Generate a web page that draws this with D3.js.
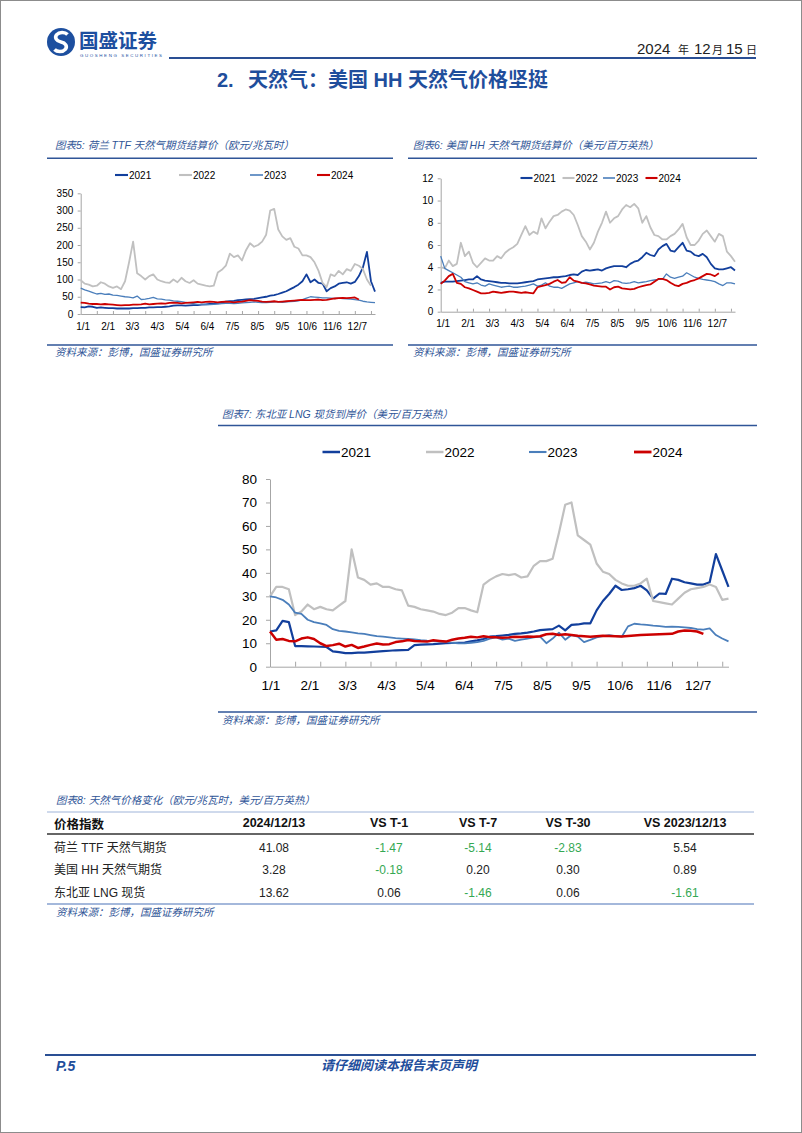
<!DOCTYPE html>
<html><head><meta charset="utf-8">
<script src="https://cdn.jsdelivr.net/npm/d3@7"></script>
<style>body{margin:0;background:#fff;}svg{display:block;}</style>
</head><body>
<svg id="page" width="802" height="1133"></svg>
<script>
// ---------------- DATA ----------------
const years = ["2021", "2022", "2023", "2024"];
const monthLabels = ["1/1","2/1","3/3","4/3","5/4","6/4","7/5","8/5","9/5","10/6","11/6","12/7"];
const monthLabelDays = [0,31,61,92,123,154,185,216,247,278,309,340];
const sampleStep = 5; // days between successive values in each series

// Chart 5: Dutch TTF (EUR/MWh)
const ttf2021 = [20,19,22,21,18,19,18,17,17,16,16,16,16,17,17,18,18,19,19,20,20,21,22,24,25,25,24,25,26,26,27,28,29,30,32,34,36,37,38,40,41,42,43,44,46,48,50,53,55,58,62,66,72,78,85,95,115,92,100,90,88,66,75,80,88,90,92,88,93,110,135,180,95,65];
const ttf2022 = [98,88,85,80,82,92,88,80,76,80,72,95,150,210,118,110,100,110,115,100,95,92,90,100,92,105,95,90,98,88,85,82,80,82,120,128,140,175,165,170,155,185,205,195,200,210,230,300,305,245,225,215,220,195,190,170,170,165,150,125,90,78,115,110,125,115,130,125,145,140,130,100,82];
const ttf2023 = [75,70,66,62,58,60,57,58,55,54,52,50,49,47,52,42,43,45,48,44,43,41,40,38,37,36,34,32,30,28,28,27,27,28,29,30,31,31,30,31,32,33,34,35,34,33,33,34,35,35,34,35,36,37,38,42,46,50,49,48,47,47,46,45,46,45,44,43,42,40,37,35,34,33];
const ttf2024 = [33,32,30,29,29,28,29,28,27,26,25,26,26,27,27,28,30,28,29,30,31,30,32,33,32,31,32,33,34,35,34,35,36,35,34,35,36,35,34,35,36,38,40,39,38,36,35,36,37,35,36,37,38,39,40,41,40,40,41,42,40,41,43,45,46,47,46,47,48,42];

// Chart 6: US Henry Hub (USD/MMBtu)
const hh2021 = [2.6,2.7,2.7,2.7,2.75,2.8,2.85,2.9,2.9,3.2,2.9,2.8,2.75,2.7,2.65,2.6,2.6,2.55,2.55,2.55,2.6,2.65,2.7,2.75,2.9,2.95,3.0,3.05,3.1,3.1,3.15,3.2,3.3,3.35,3.3,3.6,3.75,3.7,3.75,3.8,3.7,3.9,4.0,4.1,4.1,4.1,4.0,4.3,4.5,4.6,4.9,5.3,5.1,5.0,5.6,5.9,6.1,5.5,5.4,5.8,6.2,5.5,5.4,5.1,5.0,5.2,4.9,4.3,3.9,3.8,3.8,3.9,4.0,3.7];
const hh2022 = [4.0,3.9,4.6,4.1,4.3,6.2,5.0,5.4,4.4,4.0,4.4,4.8,4.6,4.6,5.0,4.8,5.3,5.6,5.8,6.1,6.9,7.7,6.9,7.2,7.0,8.4,7.5,8.1,8.6,8.7,9.0,9.2,9.1,8.7,7.8,6.8,6.3,5.6,6.2,7.2,8.0,9.0,8.0,8.4,8.6,9.2,9.6,9.4,9.7,9.3,8.0,8.6,7.6,6.9,6.8,6.5,6.5,6.8,7.0,7.4,7.9,6.7,6.0,6.0,6.4,7.0,7.3,6.8,6.3,7.0,6.8,5.4,5.0,4.5];
const hh2023 = [5.0,3.9,3.7,3.5,3.3,3.1,2.7,2.6,2.5,2.6,2.4,2.3,2.5,2.4,2.3,2.2,2.25,2.3,2.2,2.2,2.25,2.3,2.4,2.5,2.3,2.4,2.6,2.3,2.2,2.2,2.1,2.3,2.5,2.6,2.7,2.6,2.65,2.6,2.5,2.55,2.6,2.7,2.6,2.8,2.75,2.6,2.55,2.6,2.7,2.6,2.65,2.7,2.8,2.85,2.9,2.9,3.4,3.1,3.0,3.1,3.2,3.5,3.3,3.1,3.0,2.9,2.85,2.8,2.7,2.5,2.35,2.6,2.6,2.5];
const hh2024 = [2.5,2.8,3.2,3.4,2.6,2.5,2.2,2.1,1.95,1.8,1.65,1.65,1.7,1.8,1.75,1.7,1.75,1.8,1.8,1.75,1.7,1.75,1.7,1.65,2.2,2.3,2.4,2.5,2.7,2.85,2.6,2.65,3.1,2.8,2.7,2.6,2.55,2.45,2.35,2.3,2.25,2.25,2.0,2.2,2.25,2.1,2.05,2.0,2.05,2.2,2.3,2.4,2.45,2.7,2.95,2.95,2.85,2.6,2.4,2.3,2.5,2.6,2.75,2.85,3.0,3.2,3.4,3.35,3.2,3.45];

// Chart 7: Northeast Asia LNG spot (USD/MMBtu)
const lng2021 = [15,15.5,19.5,19,8.8,8.8,8.7,8.6,8.5,8.4,6.5,6.2,5.8,5.8,6,6,6.2,6.4,6.6,6.8,7,7.1,7.2,9.2,9.4,9.5,9.6,9.8,10,10.1,10.2,10.3,10.8,11.2,11.8,12.8,13,13.3,13.6,14,14.2,14.5,15,15.6,15.8,16,17.5,15.5,17.8,18,18.5,18.5,24,28,31,34.5,32.7,33,33.5,34.5,32.5,29,31.2,31,37.5,37,36,35.5,35,35,36,48,41,34];
const lng2022 = [30,34,34,33,22,23.5,26.5,24.5,25.5,24.5,24,26,28,50,38,37,35,35.5,34,34,33,32.5,26,25.5,24.5,24,23.5,22.5,22,23,25,25,24,23.2,35,37,38.5,39.5,39,39.5,38,38.5,43,45,45,46,57,69,70,56,54,52,44,40.5,39.5,37,35.5,34.5,34.5,35.5,37.5,28,27.5,27,26.5,29,31.5,33,33.5,34,35,34,28.5,29];
const lng2023 = [30,29.5,28.5,26.5,23,22.5,20,19,18.5,17.8,16,15.3,15,14.6,14.2,14,13.5,13,12.8,12.5,12.2,12,11.8,11.6,11.3,11.1,11,10.8,10.6,10.2,10,9.9,10.2,10.5,11,12,12.5,11.5,12,11,11.5,12,12.5,12.8,10,12,14.5,11.5,13.5,12.8,10.5,11.4,12.5,13,13.5,13,12.8,17.2,18.3,18,17.8,17.5,17.3,17,17.1,17,16.8,16.5,16,15.8,16.3,13.5,12,10.8];
const lng2024 = [15,11.5,11.8,11,10.8,12,12.5,11.8,10,8.8,9.2,9.8,8.6,9.3,8,8.6,9.3,9.9,9.5,9.6,10.5,10.8,11.4,11,10.8,10.7,11.3,11,10.7,11.5,12,12.3,12.8,12.5,13,12.6,12.5,12.3,12.5,12.8,12.7,12.9,12.8,13,13.8,14,13.5,13.8,13.5,13.2,13,12.8,13,13.2,13.1,13,12.9,13.1,13.3,13.5,13.6,13.7,13.8,13.9,14,15,15.4,15.3,15,14];

// Chart 8: table
const tableHeaders = ["价格指数","2024/12/13","VS T-1","VS T-7","VS T-30","VS 2023/12/13"];
const tableRowNames = ["荷兰 TTF 天然气期货","美国 HH 天然气期货","东北亚 LNG 现货"];
const latestValues = ["41.08","3.28","13.62"];
const vsT1 = ["-1.47","-0.18","0.06"];
const vsT7 = ["-5.14","0.20","-1.46"];
const vsT30 = ["-2.83","0.30","0.06"];
const vsLastYear = ["5.54","0.89","-1.61"];

// ---------------- STYLE ----------------
const LATIN = "'Liberation Sans', Arial, 'Noto Sans CJK SC', sans-serif";
const CJK = "'Noto Sans CJK SC', 'Liberation Sans', sans-serif";
const BLUE = "#2f5597";
const DARKBLUE = "#1f4e9c";
const AXIS = "#a6a6a6";
const GREEN = "#34a853";
const seriesColor = {"2021":"#123f9c","2022":"#c0c0c0","2023":"#4a7ebb","2024":"#cc0000"};

const svg = d3.select("#page");
svg.append("rect").attr("x",0.5).attr("y",0.5).attr("width",801).attr("height",1132)
  .attr("fill","#fff").attr("stroke","#8c8c8c").attr("stroke-width",1);

function txt(g, x, y, s, o) {
  const t = g.append("text").attr("x", x).attr("y", y).text(s)
    .attr("font-family", o.family || LATIN).attr("font-size", o.size || 11)
    .attr("fill", o.fill || "#000");
  if (o.anchor) t.attr("text-anchor", o.anchor);
  if (o.italic) t.attr("font-style", "italic");
  if (o.bold) t.attr("font-weight", "bold");
  if (o.baseline) t.attr("dominant-baseline", o.baseline);
  return t;
}
function hline(g, x1, x2, y, color, w) {
  g.append("line").attr("x1",x1).attr("x2",x2).attr("y1",y).attr("y2",y)
    .attr("stroke",color).attr("stroke-width",w);
}

// ---------------- PAGE HEADER ----------------
const head = svg.append("g");
head.append("circle").attr("cx",61).attr("cy",42).attr("r",14).attr("fill","#1d4f9f");
head.append("path").attr("d","M67.5,34.5 A6.5,4.8 0 1 0 61,42 A6.5,4.8 0 1 1 54.5,49.5")
  .attr("fill","none").attr("stroke","#fff").attr("stroke-width",3.6);
txt(head, 79, 47.5, "国盛证券", {family: CJK, size: 19.5, bold: true, fill: "#1d4f9f"});
txt(head, 80, 56.5, "GUOSHENG SECURITIES", {size: 4.4, fill: "#1d4f9f"}).attr("textLength", 82);
hline(head, 169, 756, 58, "#2a4f94", 2);
const dt = head.append("text").attr("y", 54).attr("font-family", LATIN).attr("fill", "#222");
[["2024",637,15],["年",678,11],["12",694,15],["月",712,11],["15",726,15],["日",746,11]].forEach(p => {
  dt.append("tspan").attr("x", p[1]).attr("font-size", p[2])
    .attr("font-family", p[2] < 12 ? CJK : LATIN).text(p[0]);
});
txt(head, 217, 87, "2.", {size: 20, bold: true, fill: DARKBLUE});
txt(head, 248, 87, "天然气：美国 HH 天然气价格坚挺", {size: 20, bold: true, fill: DARKBLUE});

// ---------------- CHART HELPER ----------------
function drawChart(c) {
  const g = svg.append("g");
  const x = d3.scaleLinear().domain([0, 365]).range([c.left, c.right]);
  const y = d3.scaleLinear().domain([0, c.yMax]).range([c.bottom, c.top]);

  const gy = g.append("g").attr("transform", `translate(${c.left},0)`)
    .call(d3.axisLeft(y).tickValues(d3.range(0, c.yMax + c.yStep / 2, c.yStep))
      .tickSize(c.yTick).tickSizeOuter(0).tickPadding(c.yPad));
  gy.select(".domain").attr("stroke", AXIS);
  gy.selectAll(".tick line").attr("stroke", AXIS);
  gy.selectAll(".tick text").attr("font-size", c.font).attr("font-family", LATIN).attr("fill", "#000");

  const gx = g.append("g").attr("transform", `translate(0,${c.bottom})`)
    .call(d3.axisBottom(x).tickValues(d3.range(20, 365, 20)).tickSize(-c.xTick).tickSizeOuter(0).tickFormat(""));
  gx.select(".domain").attr("stroke", AXIS);
  gx.selectAll(".tick line").attr("stroke", AXIS);

  g.selectAll(".xlab").data(monthLabels).join("text")
    .attr("x", (d, i) => x(monthLabelDays[i]) + c.labelShift).attr("y", c.xLabelY)
    .attr("text-anchor", "middle").attr("dominant-baseline", "central")
    .attr("font-family", LATIN).attr("font-size", c.font).attr("fill", "#000").text(d => d);

  const line = d3.line().x((d, i) => x(i * sampleStep)).y(d => y(d));
  c.series.forEach((s, k) => {
    g.append("path").datum(s).attr("d", line).attr("fill", "none")
      .attr("stroke", seriesColor[years[k]]).attr("stroke-width", c.widths[k])
      .attr("stroke-linejoin", "round");
  });

  years.forEach((yr, k) => {
    const lx = c.legendX[k];
    g.append("line").attr("x1", lx).attr("x2", lx + c.swatch).attr("y1", c.legendY).attr("y2", c.legendY)
      .attr("stroke", seriesColor[yr]).attr("stroke-width", c.widths[k] + 0.3);
    txt(g, lx + c.swatch + 1, c.legendY, yr, {size: c.legendFont, baseline: "central"});
  });
}

// ---------------- CHART 5 ----------------
const c5 = svg.append("g");
txt(c5, 55, 149, "图表5:  荷兰 TTF 天然气期货结算价（欧元/兆瓦时）", {size: 10.5, italic: true, fill: BLUE});
hline(c5, 47, 393, 158.3, BLUE, 1.6);
hline(c5, 47, 393, 345, BLUE, 1.6);
txt(c5, 55, 355.5, "资料来源：彭博，国盛证券研究所", {family: CJK, size: 10.5, italic: true, fill: BLUE});
drawChart({left: 80.7, right: 375, top: 193.3, bottom: 314, yMax: 350, yStep: 50,
  yTick: 3, yPad: 4.4, xTick: 3, font: 10, xLabelY: 326.7, labelShift: 2.5,
  series: [ttf2021, ttf2022, ttf2023, ttf2024], widths: [1.8, 1.8, 1.3, 1.8],
  legendX: [115, 179, 250, 317], legendY: 175, swatch: 13, legendFont: 10});

// ---------------- CHART 6 ----------------
const c6 = svg.append("g");
txt(c6, 413, 149, "图表6:  美国 HH 天然气期货结算价（美元/百万英热）", {size: 10.5, italic: true, fill: BLUE});
hline(c6, 408, 757, 158.3, BLUE, 1.6);
hline(c6, 408, 757, 345, BLUE, 1.6);
txt(c6, 413, 355.5, "资料来源：彭博，国盛证券研究所", {family: CJK, size: 10.5, italic: true, fill: BLUE});
drawChart({left: 440.7, right: 735, top: 178.3, bottom: 311.7, yMax: 12, yStep: 2,
  yTick: 3, yPad: 4.4, xTick: 3, font: 10, xLabelY: 323.3, labelShift: 2.5,
  series: [hh2021, hh2022, hh2023, hh2024], widths: [1.8, 1.8, 1.3, 1.8],
  legendX: [520.5, 562.5, 603, 645.5], legendY: 178, swatch: 12, legendFont: 10});

// ---------------- CHART 7 ----------------
const c7 = svg.append("g");
txt(c7, 222, 418, "图表7:  东北亚 LNG 现货到岸价（美元/百万英热）", {size: 10.5, italic: true, fill: BLUE});
hline(c7, 218, 757, 425.5, BLUE, 1.6);
hline(c7, 218, 757, 712, BLUE, 1.6);
txt(c7, 222, 724, "资料来源：彭博，国盛证券研究所", {family: CJK, size: 10.5, italic: true, fill: BLUE});
drawChart({left: 270, right: 728.5, top: 479, bottom: 666.7, yMax: 80, yStep: 10,
  yTick: 4, yPad: 9, xTick: 5, font: 13.5, xLabelY: 685, labelShift: 1,
  series: [lng2021, lng2022, lng2023, lng2024], widths: [2.2, 2.2, 1.8, 2.5],
  legendX: [322.5, 426, 529, 634], legendY: 452, swatch: 17.5, legendFont: 13.5});

// ---------------- TABLE ----------------
const tb = svg.append("g");
txt(tb, 56, 804, "图表8:  天然气价格变化（欧元/兆瓦时，美元/百万英热）", {size: 10.5, italic: true, fill: BLUE});
hline(tb, 47, 754, 812, "#9fb4d9", 1);
const colX = [54, 274, 389, 478, 568, 685];
tableHeaders.forEach((h, i) => {
  txt(tb, colX[i], 823, h, {size: 12.5, bold: true, anchor: i === 0 ? "start" : "middle",
    baseline: "central", family: i === 0 ? CJK : LATIN, fill: "#111"});
});
hline(tb, 47, 754, 834, "#333", 1.3);
const rowY = [848, 870, 893];
const cols = [latestValues, vsT1, vsT7, vsT30, vsLastYear];
tableRowNames.forEach((name, r) => {
  txt(tb, 54, rowY[r], name, {size: 12, baseline: "central", fill: "#222"});
  cols.forEach((col, ci) => {
    const v = col[r];
    txt(tb, colX[ci + 1], rowY[r], v, {size: 12, anchor: "middle", baseline: "central",
      fill: (ci > 0 && v.startsWith("-")) ? GREEN : "#222"});
  });
});
hline(tb, 47, 754, 904, "#4a72b8", 1.2);
txt(tb, 56, 916, "资料来源：彭博，国盛证券研究所", {family: CJK, size: 10.5, italic: true, fill: BLUE});

// ---------------- FOOTER ----------------
const ft = svg.append("g");
hline(ft, 45, 756, 1055, "#2a4f94", 2);
txt(ft, 56, 1071, "P.5", {size: 14, bold: true, italic: true, fill: DARKBLUE});
txt(ft, 399, 1070, "请仔细阅读本报告末页声明", {family: CJK, size: 13, bold: true, italic: true, anchor: "middle", fill: DARKBLUE});
</script>
</body></html>
